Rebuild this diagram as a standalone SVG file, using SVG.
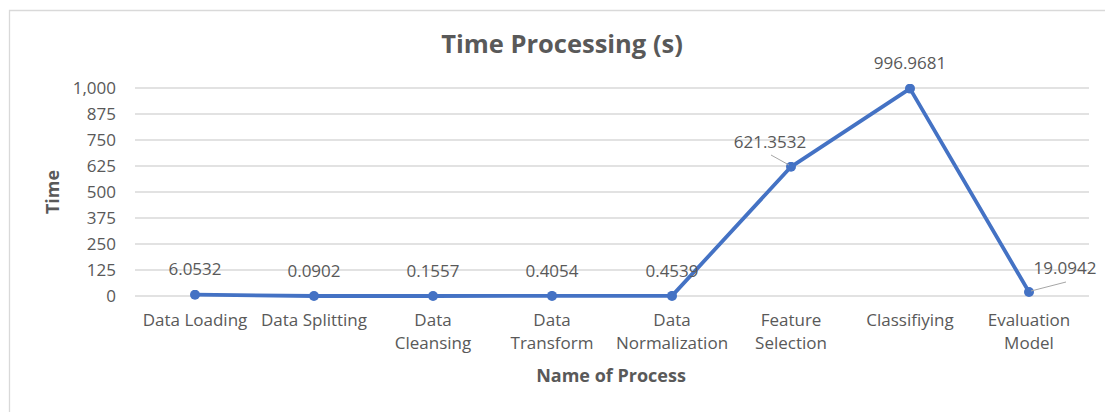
<svg xmlns="http://www.w3.org/2000/svg" width="1105" height="412" viewBox="0 0 1105 412">
<style>
text{font-family:"Open Sans","Liberation Sans",sans-serif;fill:#595959}
.tick{font-size:17px;text-anchor:end}
.cat{font-size:17px;text-anchor:middle}
.val{font-size:17px;text-anchor:middle}
.title{font-size:25.5px;font-weight:bold;text-anchor:middle}
.axt{font-size:18px;font-weight:bold;text-anchor:middle}
.grid{stroke:#D9D9D9;stroke-width:1.3}
.leader{stroke:#A6A6A6;stroke-width:1}
</style>
<defs>
<marker id="dot" viewBox="0 0 10 10" refX="5" refY="5" markerWidth="10" markerHeight="10" markerUnits="userSpaceOnUse"><circle cx="5" cy="5" r="5" fill="#4472C4"/></marker>
</defs>
<rect width="1105" height="412" fill="#fff"/>
<path d="M9.5 412V10.5H1105" fill="none" stroke="#D9D9D9" stroke-width="1.3"/>
<g id="title"><text class="title" x="562" y="53">Time Processing (s)</text></g>
<g id="gridlines">
<line class="grid" x1="135" y1="88" x2="1089" y2="88"/>
<line class="grid" x1="135" y1="114" x2="1089" y2="114"/>
<line class="grid" x1="135" y1="140" x2="1089" y2="140"/>
<line class="grid" x1="135" y1="166" x2="1089" y2="166"/>
<line class="grid" x1="135" y1="192" x2="1089" y2="192"/>
<line class="grid" x1="135" y1="218" x2="1089" y2="218"/>
<line class="grid" x1="135" y1="244" x2="1089" y2="244"/>
<line class="grid" x1="135" y1="270" x2="1089" y2="270"/>
<line class="grid" x1="135" y1="296" x2="1089" y2="296"/>
</g>
<g id="y-axis">
<text class="tick" x="116" y="94">1,000</text>
<text class="tick" x="116" y="120">875</text>
<text class="tick" x="116" y="146">750</text>
<text class="tick" x="116" y="172">625</text>
<text class="tick" x="116" y="198">500</text>
<text class="tick" x="116" y="224">375</text>
<text class="tick" x="116" y="250">250</text>
<text class="tick" x="116" y="276">125</text>
<text class="tick" x="116" y="302">0</text>
<text class="axt" transform="translate(59 192) rotate(-90)">Time</text>
</g>
<g id="x-axis">
<text class="cat" x="195" y="326">Data Loading</text>
<text class="cat" x="314" y="326">Data Splitting</text>
<text class="cat" x="433" y="326">Data</text>
<text class="cat" x="433" y="349">Cleansing</text>
<text class="cat" x="552" y="326">Data</text>
<text class="cat" x="552" y="349">Transform</text>
<text class="cat" x="672" y="326">Data</text>
<text class="cat" x="672" y="349">Normalization</text>
<text class="cat" x="791" y="326">Feature</text>
<text class="cat" x="791" y="349">Selection</text>
<text class="cat" x="910" y="326">Classifiying</text>
<text class="cat" x="1029" y="326">Evaluation</text>
<text class="cat" x="1029" y="349">Model</text>
<text class="axt" x="611" y="382">Name of Process</text>
</g>
<g id="connectors">
<polyline points="195,294.7 314,296 433,296 552,295.9 672,295.9 791,166.8 910,88.6 1029,292" fill="none" stroke="#4472C4" stroke-width="3.8" stroke-linejoin="round" marker-start="url(#dot)" marker-mid="url(#dot)" marker-end="url(#dot)"/>
<line class="leader" x1="771" y1="155" x2="789" y2="165"/>
<line class="leader" x1="1031" y1="291" x2="1066" y2="282"/>
</g>
<g id="data-labels">
<text class="val" x="195" y="275">6.0532</text>
<text class="val" x="314" y="276.5">0.0902</text>
<text class="val" x="433" y="276.5">0.1557</text>
<text class="val" x="552" y="276.5">0.4054</text>
<text class="val" x="672" y="276.5">0.4539</text>
<text class="val" x="770" y="147.5">621.3532</text>
<text class="val" x="910" y="69">996.9681</text>
<text class="val" x="1065" y="274">19.0942</text>
</g>
</svg>
